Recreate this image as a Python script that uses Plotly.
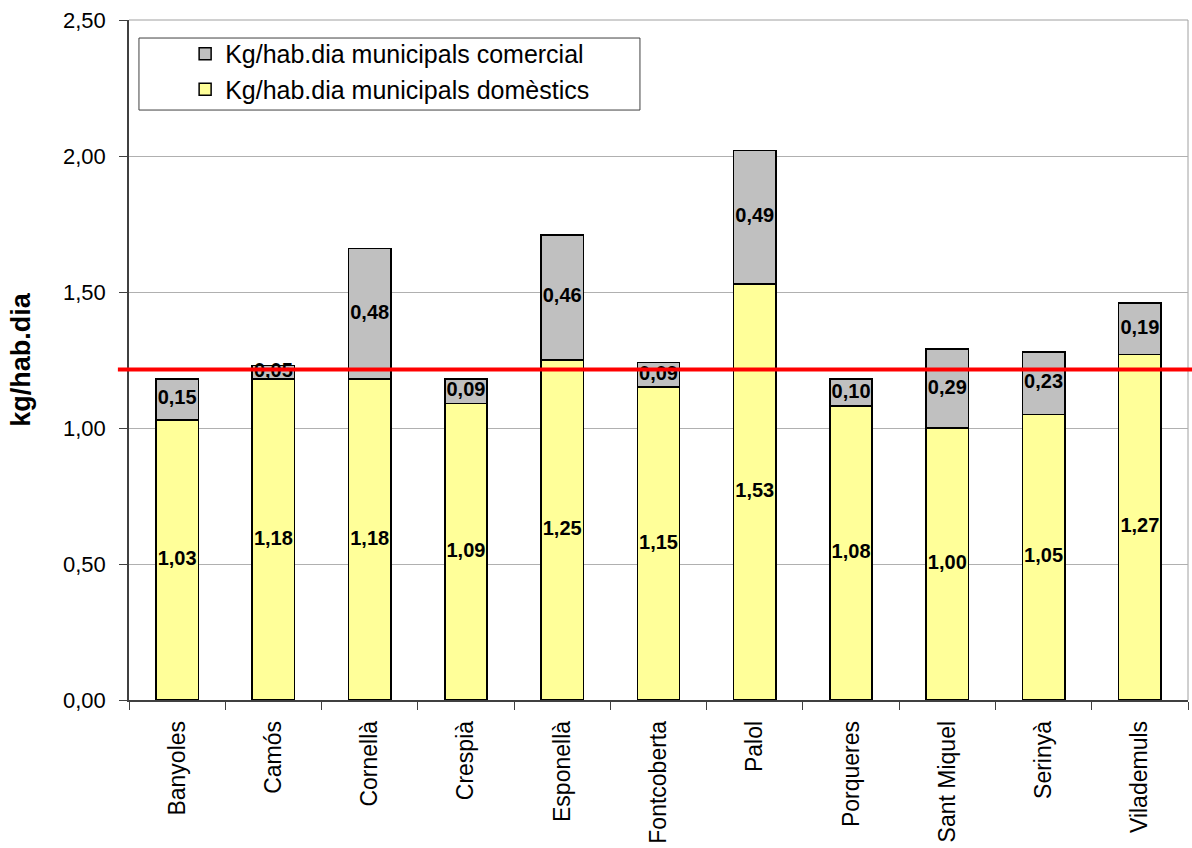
import plotly.graph_objects as go

categories = ["Banyoles", "Camós", "Cornellà", "Crespià", "Esponellà", "Fontcoberta",
              "Palol", "Porqueres", "Sant Miquel", "Serinyà", "Vilademuls"]
domestic = [1.03, 1.18, 1.18, 1.09, 1.25, 1.15, 1.53, 1.08, 1.00, 1.05, 1.27]
commercial = [0.15, 0.05, 0.48, 0.09, 0.46, 0.09, 0.49, 0.10, 0.29, 0.23, 0.19]
reference_value = 1.215
y_ticks = [0, 0.5, 1.0, 1.5, 2.0, 2.5]

name_com = "Kg/hab.dia municipals comercial"
name_dom = "Kg/hab.dia municipals domèstics"

FONT = "Liberation Sans, Arial, sans-serif"

def fmt(v):
    return f"{v:.2f}".replace(".", ",")

fig = go.Figure()
fig.add_trace(go.Bar(x=categories, y=domestic, name=name_dom,
                     marker=dict(color="#FFFF99", line=dict(color="black", width=1.5))))
fig.add_trace(go.Bar(x=categories, y=commercial, base=domestic, name=name_com,
                     marker=dict(color="#C0C0C0", line=dict(color="black", width=1.5))))

# value labels
lab_x = categories + categories
lab_y = [d / 2 for d in domestic] + [d + c / 2 for d, c in zip(domestic, commercial)]
lab_t = [fmt(d) for d in domestic] + [fmt(c) for c in commercial]
fig.add_trace(go.Scatter(x=lab_x, y=lab_y, text=lab_t, mode="text", showlegend=False,
                         textposition="middle center", hoverinfo="skip",
                         textfont=dict(family=FONT, size=20, color="black", weight="bold")))

# legend frame
fig.add_shape(type="rect", xref="paper", yref="paper", x0=0.0094, x1=0.4825,
              y0=0.8676, y1=0.9735, fillcolor="white",
              line=dict(color="#404040", width=1), layer="between")
fig.add_shape(type="line", xref="paper", yref="y", x0=-0.0105, x1=1.01,
              y0=reference_value, y1=reference_value,
              line=dict(color="#FF0000", width=4), layer="above")
fig.add_shape(type="line", xref="paper", yref="paper", x0=1, x1=1, y0=0, y1=1,
              line=dict(color="#A0A0A0", width=1), layer="below")
fig.add_shape(type="line", xref="paper", yref="paper", x0=0, x1=1, y0=1, y1=1,
              line=dict(color="#A0A0A0", width=1), layer="below")

fig.update_layout(
    width=1192, height=848,
    margin=dict(l=129, r=4, t=20, b=148, autoexpand=False),
    barmode="stack", bargap=0.56,
    plot_bgcolor="white", paper_bgcolor="white",
    font=dict(family=FONT, size=22, color="black"),
    separators=",.",
    showlegend=True,
    legend=dict(x=0.053, y=0.984, xanchor="left", yanchor="top",
                bgcolor="rgba(0,0,0,0)", borderwidth=0,
                font=dict(family=FONT, size=25, color="black"),
                traceorder="reversed", tracegroupgap=0, itemwidth=30),
)
fig.update_xaxes(type="category", range=[-0.5, len(categories) - 0.5],
                 tickangle=-90, showgrid=False, automargin=False,
                 showline=True, linecolor="#404040", linewidth=1.5,
                 ticks="outside", tickson="boundaries", ticklen=8, tickcolor="#404040",
                 ticklabelstandoff=10,
                 tickfont=dict(family=FONT, size=23, color="black"))
fig.update_yaxes(range=[0, 2.5], tickvals=y_ticks, tickformat=".2f", automargin=False,
                 showgrid=True, gridcolor="#B0B0B0", gridwidth=1,
                 showline=True, linecolor="#404040", linewidth=1.5,
                 ticks="outside", ticklen=8, tickcolor="#404040",
                 ticklabelstandoff=9,
                 zeroline=False,
                 tickfont=dict(family=FONT, size=22, color="black"),
                 title=dict(text="<b>kg/hab.dia</b>", font=dict(family=FONT, size=27, color="black"),
                            standoff=25))

fig.write_html("out.html", config={"displayModeBar": False},
               post_script="document.body.style.margin='0';document.body.style.overflow='hidden';")
